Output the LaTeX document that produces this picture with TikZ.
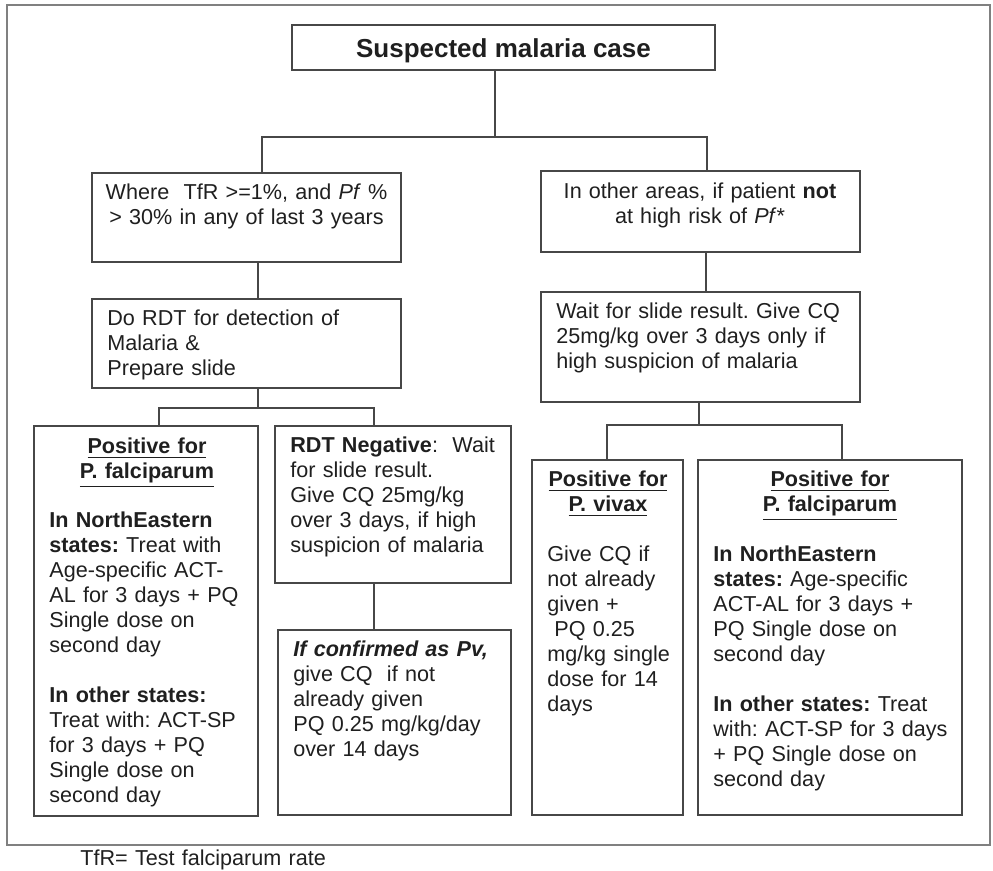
\documentclass[tikz,border=0pt]{standalone}
\usepackage{fontspec}
\setmainfont{Liberation Sans}
\usetikzlibrary{fit}
\frenchspacing
\begin{document}
\begin{tikzpicture}[x=0.5pt,y=-0.5pt,
  box/.style={draw=black!72, line width=1pt, inner sep=0pt},
  link/.style={draw=black!72, line width=1pt},
  tx/.style={inner sep=0pt, anchor=base west, align=left, text width=#1},
  tc/.style={inner sep=0pt, anchor=base, align=center, text width=#1},
  font=\fontsize{10.8pt}{12.5pt}\selectfont\frenchspacing, text=black!88]
\useasboundingbox (0,0) rectangle (993,871);
\node[draw=black!50, line width=1.3pt, inner sep=0pt, fit={(7,5) (990,845)}] (frame) {};
% boxes
\node[box, fit={(292,25) (715,70)}] (title) {};
\node[box, fit={(92,173) (401,262)}] (where) {};
\node[box, fit={(541,171) (860,252)}] (other) {};
\node[box, fit={(92,299) (401,388)}] (rdt) {};
\node[box, fit={(541,292) (860,402)}] (wait) {};
\node[box, fit={(34,426) (258,816)}] (pfL) {};
\node[box, fit={(275,426) (511,583)}] (neg) {};
\node[box, fit={(278,630) (511,815)}] (conf) {};
\node[box, fit={(532,460) (683,815)}] (viv) {};
\node[box, fit={(698,460) (962,815)}] (pfR) {};
% connectors
\coordinate (jT) at (495,137);
\coordinate (jL) at (262,137);
\coordinate (jR) at (707,137);
\draw[link] (jT |- title.south) -- (jT);
\draw[link] (jL |- where.north) |- (jR) -- (jR |- other.north);
\coordinate (c1) at (258,280);
\draw[link] (c1 |- where.south) -- (c1 |- rdt.north);
\coordinate (b1) at (258,408);
\coordinate (b1L) at (159,408);
\coordinate (b1R) at (374,408);
\draw[link] (b1 |- rdt.south) -- (b1);
\draw[link] (b1L |- pfL.north) |- (b1R) -- (b1R |- neg.north);
\draw[link] (b1R |- neg.south) -- (b1R |- conf.north);
\coordinate (c2) at (706,270);
\draw[link] (c2 |- other.south) -- (c2 |- wait.north);
\coordinate (b2) at (699,425);
\coordinate (b2L) at (607,425);
\coordinate (b2R) at (842,425);
\draw[link] (b2 |- wait.south) -- (b2);
\draw[link] (b2L |- viv.north) |- (b2R) -- (b2R |- pfR.north);
% texts
\node[anchor=base, inner sep=0pt, font=\fontsize{13pt}{15pt}\selectfont\bfseries] (ttl) at (503.5,58) {Suspected malaria case};
\node[tc=160pt] (t1) at (246.5,200) {Where\ \ TfR >=1\%, and \textit{Pf} \%\\> 30\% in any of last 3 years};
\node[tc=160pt] (t2) at (700,199) {In other areas, if patient \textbf{not}\\at high risk of \textit{Pf}*};
\node[tx=150pt] (t3) at (107,326) {Do RDT for detection of\\Malaria \&\\Prepare slide};
\node[tx=150pt] (t4) at (556,319) {Wait for slide result. Give CQ\\25mg/kg over 3 days only if\\high suspicion of malaria};
\node[tc=110pt] (h1) at (147,454) {\textbf{\underline{Positive for}}\\\textbf{\underline{P. falciparum}}};
\node[tx=110pt] (t5) at (49,528) {\textbf{In NorthEastern}\\\textbf{states:} Treat with\\Age-specific ACT-\\AL for 3 days + PQ\\Single dose on\\second day\\[12.5pt]\textbf{In other states:}\\Treat with: ACT-SP\\for 3 days + PQ\\Single dose on\\second day};
\node[tx=115pt] (t6) at (290,453) {\textbf{RDT Negative}:\ \ Wait\\for slide result.\\Give CQ 25mg/kg\\over 3 days, if high\\suspicion of malaria};
\node[tx=115pt] (t7) at (293,657) {\textbf{\textit{If confirmed as Pv,}}\\give CQ\ \ if not\\already given\\PQ 0.25 mg/kg/day\\over 14 days};
\node[tc=75pt] (h2) at (608,487) {\textbf{\underline{Positive for}}\\\textbf{\underline{P. vivax}}};
\node[tx=70pt] (t8) at (547,562) {Give CQ if\\not already\\given +\\\hspace*{3.5pt}PQ 0.25\\mg/kg single\\dose for 14\\days};
\node[tc=130pt] (h3) at (830,487) {\textbf{\underline{Positive for}}\\\textbf{\underline{P. falciparum}}};
\node[tx=130pt] (t9) at (713,562) {\textbf{In NorthEastern}\\\textbf{states:} Age-specific\\ACT-AL for 3 days +\\PQ Single dose on\\second day\\[12.5pt]\textbf{In other states:} Treat\\with: ACT-SP for 3 days\\+ PQ Single dose on\\second day};
\node[tx=200pt] (foot) at (80,866) {TfR= Test falciparum rate};
\end{tikzpicture}
\end{document}
